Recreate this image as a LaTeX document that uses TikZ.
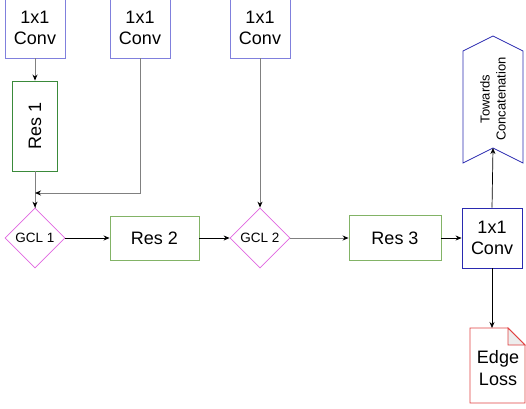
\documentclass[tikz,border=0pt]{standalone}
\usepackage{fontspec}
\setmainfont{Liberation Sans}
\usetikzlibrary{arrows.meta,shapes.geometric,shapes.symbols}
\definecolor{convblue}{HTML}{8080DD}
\definecolor{convdark}{HTML}{2A2AB0}
\definecolor{resgreen}{HTML}{82B366}
\definecolor{resdark}{HTML}{3A8A3A}
\definecolor{gclpink}{HTML}{E066E0}
\definecolor{notered}{HTML}{E04040}
\definecolor{linegray}{HTML}{808080}
\tikzset{
  bigfont/.style={font=\fontsize{18}{21}\selectfont},
  conv/.style={draw=convblue, line width=0.9pt, minimum width=60pt, minimum height=60pt, align=center, inner sep=0pt, bigfont},
  resbox/.style={draw=resgreen, line width=0.9pt, align=center, inner sep=0pt, bigfont},
  gcl/.style={draw=gclpink, line width=0.8pt, diamond, minimum width=60pt, minimum height=60pt, inner sep=0pt, font=\fontsize{13.5}{15}\selectfont},
  arr/.style={-{Stealth[length=6pt,width=5pt]}, line width=0.7pt, draw=black},
  garr/.style={-{Stealth[length=6pt,width=5pt,color=black]}, line width=1pt, draw=linegray},
}
\begin{document}
\begin{tikzpicture}[x=1pt,y=-1pt]
\useasboundingbox (0,0) rectangle (526,408);
% top conv boxes
\node[conv, minimum height=66pt] (c1) at (35,25) {};
\node[bigfont, align=center] (c1t) at (35,28) {1x1\\Conv};
\node[conv, minimum height=66pt] (c2) at (140,25) {};
\node[bigfont, align=center] (c2t) at (140,28) {1x1\\Conv};
\node[conv, minimum height=66pt] (c3) at (260,25) {};
\node[bigfont, align=center] (c3t) at (260,28) {1x1\\Conv};
% res1
\node[resbox, draw=resdark, minimum width=45pt, minimum height=90pt] (r1) at (35,126) {\rotatebox{90}{Res 1}};
% diamonds
\node[gcl] (g1) at (35,238) {GCL 1};
\node[gcl] (g2) at (260,238) {GCL 2};
% res2 res3
\node[resbox, minimum width=89pt, minimum height=44pt] (r2) at (154.5,238) {Res 2};
\node[resbox, minimum width=92pt, minimum height=45pt] (r3) at (395,238) {Res 3};
% right conv
\node[conv, draw=convdark] (c4) at (492,238) {1x1\\Conv};
% towards concatenation
\draw[draw=convdark, line width=0.8pt] (463,51) -- (493,36) -- (523,51) -- (523,163) -- (493,148) -- (463,163) -- cycle;
\coordinate (tc) at (493,148);
\node[rotate=90, align=center, font=\fontsize{13}{16}\selectfont] (tct) at (493,99) {Towards\\Concatenation};
% edge loss note
\draw[draw=notered, line width=0.8pt] (470,328) -- (508,328) -- (525,345) -- (525,403) -- (470,403) -- cycle;
\filldraw[draw=notered, fill=black!7, line width=0.8pt] (508,328) -- (508,345) -- (525,345) -- cycle;
\coordinate (el) at (492,328);
\node[align=center, font=\fontsize{18}{22}\selectfont] (elt) at (498,368) {Edge\\Loss};
% connectors
\coordinate (j) at (35,193);
\draw[garr] (c1.south) -- (r1.north);
\draw[line width=1pt, draw=linegray] (r1.south) -- (g1.north);
\draw[garr] (j) -- (g1.north);
\draw[garr] (c2.south) |- (j);
\draw[arr] (g1.east) -- (r2.west);
\draw[arr] (r2.east) -- (g2.west);
\draw[garr] (c3.south) -- (g2.north);
\draw[garr] (g2.east) -- (r3.west);
\draw[arr] (r3.east) -- (c4.west);
\draw[arr] (c4.north) -- (tc);
\draw[arr] (c4.south) -- (el);
\end{tikzpicture}
\end{document}
